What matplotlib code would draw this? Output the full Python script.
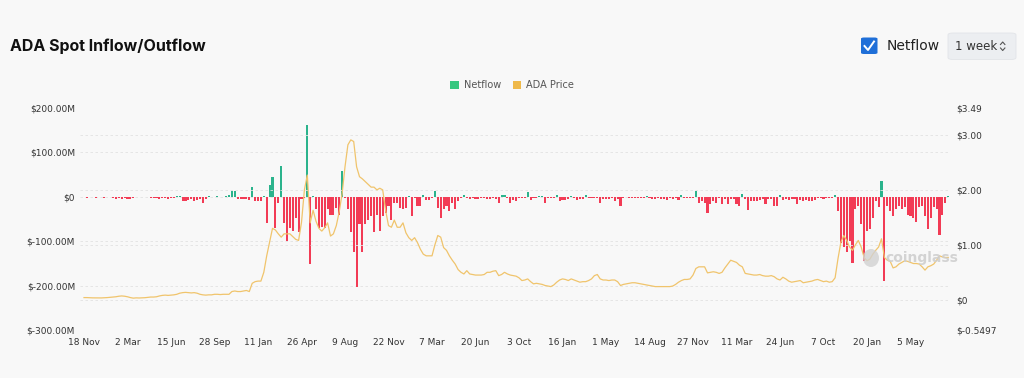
import matplotlib
matplotlib.use("Agg")
import matplotlib.pyplot as plt
from matplotlib.patches import FancyBboxPatch, Patch, Ellipse
from matplotlib.lines import Line2D
import pandas as pd


START_DATE = "2019-11-18"
TICK_EVERY = 15

# weekly ADA spot netflow, $M
netflow = [
    -1, -2, -1, -1, -2, -1, -1, -2, -1, -1,
    -3, -4, -3, -5, -3, -4, -5, -2, -1, -1,
    -1, -1, -1, -3, -2, -3, -4, -3, -2, -4,
    -3, -2, 2, 1, -9, -10, -8, -6, -10, -8,
    -6, -13, -4, 2, -1, -1, 1, -1, -1, 1,
    3, 12, 14, -4, -5, -5, -6, -8, 22, -9,
    -10, -9, 2, -60, 27, 45, -70, -15, 70, -58,
    -100, -70, -77, -47, -80, -6, -3, 162, -152, 2,
    -28, -70, -68, -70, -28, -40, -40, -25, -40, 57,
    -2, -28, -80, -125, -203, -62, -125, -62, -52, -44,
    -80, -40, -77, -44, -36, -21, -52, -14, -14, -25,
    -28, -25, 2, -43, -3, -20, -20, 5, -8, -8,
    -3, 12, -25, -47, -28, -21, -32, -13, -28, -10,
    -3, 3, -3, -4, -3, -5, -4, -3, -3, -5,
    -4, -3, -6, -15, 3, 3, -2, -15, -8, -10,
    -3, -3, -2, 10, -8, -3, -3, 2, 2, -14,
    -2, -2, -2, 3, -10, -8, -8, -5, 2, -3,
    -8, -5, -5, 3, -3, -3, -3, -3, -15, -5,
    -4, -5, -3, -10, -4, -20, -3, -1, -2, -3,
    -2, -3, -2, -3, 2, -3, -5, -4, -3, -6,
    -4, -7, -3, -5, -3, -8, 3, -3, -3, -3,
    -3, 12, -14, -10, -13, -36, -17, -10, -13, -3,
    -16, -5, -17, -5, -5, -17, -20, 6, -5, -30,
    -10, -10, -10, -8, -5, -16, -5, -4, -20, -20,
    3, -8, -4, -8, -5, -5, -16, -8, -10, -7,
    -9, -10, -8, -3, -3, -4, -3, -3, -2, 3,
    -33, -105, -112, -125, -100, -150, -28, -20, -62, -145,
    -77, -73, -47, -10, -23, 36, -190, -20, -32, -43,
    -28, -20, -28, -22, -40, -43, -47, -57, -22, -20,
    -43, -73, -47, -22, -28, -85, -40, -14, 2,
]

# weekly ADA close, $
price = [
    0.04, 0.04, 0.037, 0.035, 0.034, 0.033, 0.034, 0.036, 0.04, 0.045,
    0.05, 0.055, 0.065, 0.07, 0.065, 0.055, 0.04, 0.03, 0.035, 0.033,
    0.035, 0.038, 0.045, 0.05, 0.05, 0.055, 0.07, 0.08, 0.085, 0.08,
    0.085, 0.09, 0.1, 0.12, 0.13, 0.135, 0.13, 0.125, 0.13, 0.12,
    0.1, 0.09, 0.085, 0.09, 0.09, 0.1, 0.1, 0.095, 0.1, 0.1,
    0.1, 0.15, 0.16, 0.15, 0.15, 0.16, 0.17, 0.15, 0.3, 0.33,
    0.34, 0.34, 0.5, 0.8, 1.05, 1.3, 1.27, 1.2, 1.14, 1.2,
    1.2, 1.2, 1.15, 1.1, 1.08, 1.41, 2.0, 2.27, 1.4, 1.63,
    1.43, 1.3, 1.25, 1.31, 1.4, 1.16, 1.2, 1.35, 1.6, 1.93,
    2.42, 2.82, 2.91, 2.88, 2.42, 2.24, 2.2, 2.15, 2.1, 2.05,
    2.05, 2.0, 2.03, 2.0, 1.63, 1.35, 1.32, 1.45, 1.32, 1.32,
    1.4, 1.22, 1.13, 1.08, 1.13, 1.04, 0.92, 0.83, 0.8, 0.8,
    0.8, 1.0, 1.17, 1.14, 0.95, 0.9, 0.8, 0.72, 0.65, 0.55,
    0.5, 0.47, 0.53, 0.47, 0.46, 0.45, 0.45, 0.45, 0.46, 0.5,
    0.5, 0.52, 0.53, 0.44, 0.46, 0.5, 0.47, 0.45, 0.44, 0.43,
    0.4, 0.35, 0.36, 0.38, 0.33, 0.29, 0.3, 0.29, 0.28, 0.26,
    0.25, 0.24, 0.27, 0.32, 0.36, 0.38, 0.37, 0.35, 0.38, 0.36,
    0.34, 0.32, 0.33, 0.33, 0.35, 0.38, 0.44, 0.46, 0.38, 0.36,
    0.36, 0.35, 0.36, 0.36, 0.33, 0.26, 0.28, 0.29, 0.3, 0.31,
    0.31, 0.3, 0.29, 0.28, 0.27, 0.26, 0.25, 0.24, 0.24, 0.24,
    0.24, 0.24, 0.24, 0.25, 0.28, 0.32, 0.35, 0.37, 0.37, 0.38,
    0.45, 0.57, 0.6, 0.6, 0.6, 0.49, 0.5, 0.51, 0.5, 0.48,
    0.5, 0.58, 0.65, 0.72, 0.7, 0.68, 0.63, 0.6, 0.48, 0.47,
    0.46, 0.45, 0.45, 0.46, 0.44, 0.43, 0.43, 0.44, 0.42, 0.38,
    0.36, 0.41, 0.38, 0.34, 0.32, 0.33, 0.34, 0.35, 0.31, 0.32,
    0.33, 0.34, 0.36, 0.37, 0.35, 0.33, 0.34, 0.32, 0.33, 0.4,
    0.75, 1.05, 1.17, 1.08, 0.96, 0.9, 1.0, 1.08, 0.96, 0.77,
    0.71, 0.74, 0.83, 0.9, 0.96, 1.11, 0.77, 0.72, 0.7, 0.58,
    0.6, 0.65, 0.68, 0.71, 0.7, 0.68, 0.66, 0.66, 0.65, 0.6,
    0.54, 0.6, 0.62, 0.65, 0.72, 0.8, 0.78, 0.77, 0.77,
]

flow_ticks = [200, 100, 0, -100, -200, -300]
flow_tick_labels = ["$200.00M", "$100.00M", "$0", "$-100.00M", "$-200.00M", "$-300.00M"]
price_ticks = [3.49, 3.00, 2.00, 1.00, 0.0, -0.5497]
price_tick_labels = ["$3.49", "$3.00", "$2.00", "$1.00", "$0", "$-0.5497"]

BG = "#f8f8f8"
GREEN = "#2bb38c"
RED = "#f23b55"
PRICE_COLOR = "#f0c46c"
TEXT = "#333333"
GRID = "#e2e2e2"

W_PX, H_PX = 1024, 378


def fx(px):
    return px / W_PX


def fy(py):
    return 1 - py / H_PX


def main() -> None:
    weeks = pd.date_range(START_DATE, periods=len(netflow), freq="7D")
    x = list(range(len(netflow)))

    fig = plt.figure(figsize=(10.24, 3.78), dpi=100, facecolor=BG)
    ax = fig.add_axes([fx(79.65), fy(330), fx(870), 222 / H_PX])
    ax.set_facecolor(BG)
    ax2 = ax.twinx()

    colors = [GREEN if v >= 0 else RED for v in netflow]
    ax.bar(x, netflow, width=0.72, color=colors, linewidth=0, zorder=2)

    for t in flow_ticks[1:-1]:
        ax.axhline(t, color=GRID, linewidth=0.6, linestyle=(0, (3, 3)), zorder=1)
    for t in price_ticks[1:-1]:
        ax2.axhline(t, color=GRID, linewidth=0.6, linestyle=(0, (3, 3)), zorder=1)

    ax2.plot(x, price, color=PRICE_COLOR, linewidth=0.9, zorder=3)

    ax.set_xlim(-1.5, len(netflow) - 0.5)
    ax.set_ylim(-300, 200)
    ax2.set_ylim(-0.5497, 3.49)

    tick_idx = list(range(0, len(netflow), TICK_EVERY))
    ax.set_xticks(tick_idx)
    ax.set_xticklabels([f"{weeks[i].day} {weeks[i].strftime('%b')}" for i in tick_idx])
    ax.set_yticks(flow_ticks)
    ax.set_yticklabels(flow_tick_labels)
    ax2.set_yticks(price_ticks)
    ax2.set_yticklabels(price_tick_labels)

    ax.tick_params(axis="x", length=0, pad=6, labelsize=6.5, labelcolor=TEXT)
    ax.tick_params(axis="y", length=0, pad=3.3, labelsize=6.5, labelcolor=TEXT)
    ax2.tick_params(axis="y", length=0, pad=4.7, labelsize=6.5, labelcolor=TEXT)
    for a in (ax, ax2):
        for s in a.spines.values():
            s.set_visible(False)

    # title and controls
    fig.text(fx(10), fy(46), "ADA Spot Inflow/Outflow", fontsize=11.5,
             fontweight="bold", family="Inter", color="#111111", va="center")

    box = FancyBboxPatch((fx(861), fy(54)), fx(16.5), 16.5 / H_PX,
                         boxstyle="round,pad=0,rounding_size=0.003",
                         transform=fig.transFigure, facecolor="#1f6fd8",
                         edgecolor="none")
    fig.patches.append(box)
    fig.lines.append(Line2D([fx(864.5), fx(868), fx(874)], [fy(46), fy(50), fy(41.5)],
                            transform=fig.transFigure, color="white", linewidth=1.4))
    fig.text(fx(887), fy(46), "Netflow", fontsize=10, color="#222222", va="center")

    btn = FancyBboxPatch((fx(948), fy(59.5)), fx(68), 26.5 / H_PX,
                         boxstyle="round,pad=0,rounding_size=0.005",
                         transform=fig.transFigure, facecolor="#eceef1",
                         edgecolor="#e2e4e8", linewidth=0.6)
    fig.patches.append(btn)
    fig.text(fx(955), fy(46), "1 week", fontsize=8.5, color="#333333", va="center")
    fig.lines.append(Line2D([fx(1000.5), fx(1002.7), fx(1004.9)], [fy(44.5), fy(42), fy(44.5)],
                            transform=fig.transFigure, color="#555555", linewidth=0.8))
    fig.lines.append(Line2D([fx(1000.5), fx(1002.7), fx(1004.9)], [fy(48), fy(50.5), fy(48)],
                            transform=fig.transFigure, color="#555555", linewidth=0.8))

    # legend
    handles = [Patch(facecolor="#36c77f", edgecolor="none", label="Netflow"),
               Patch(facecolor="#efb94a", edgecolor="none", label="ADA Price")]
    fig.legend(handles=handles, loc="center", bbox_to_anchor=(fx(512), fy(85)),
               ncol=2, frameon=False, fontsize=7, handlelength=0.9, handleheight=0.9,
               handletextpad=0.5, columnspacing=1.2, labelcolor="#555555")

    # watermark
    fig.patches.append(Ellipse((fx(871), fy(258)), fx(16), 18 / H_PX,
                               transform=fig.transFigure, facecolor="#d2d2d2",
                               edgecolor="none", alpha=0.8))
    fig.text(fx(885), fy(258), "coinglass", fontsize=10, color="#cfcfcf",
             va="center", fontweight="bold", alpha=0.9)

    fig.savefig("out.png", dpi=100, facecolor=BG)
    plt.close(fig)


if __name__ == "__main__":
    main()
